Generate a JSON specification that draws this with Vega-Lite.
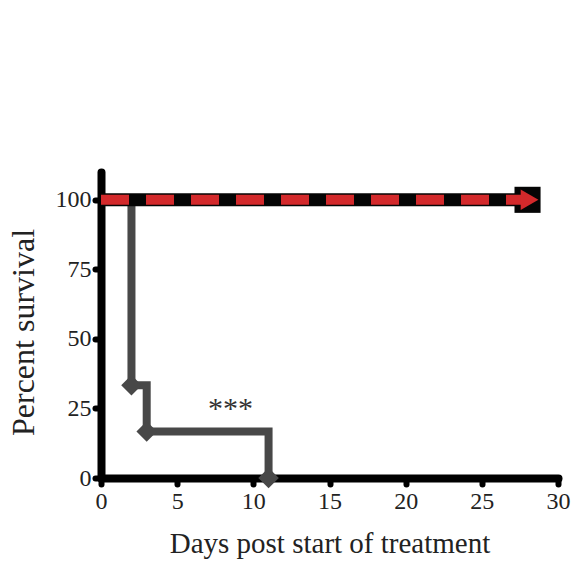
{
  "$schema": "https://vega.github.io/schema/vega-lite/v6.json",
  "autosize": {"type": "none"},
  "padding": {"left": 101, "top": 172, "right": 15, "bottom": 83},
  "width": 457,
  "height": 306,
  "background": "white",
  "config": {
    "view": {"stroke": null},
    "axis": {
      "grid": false,
      "domainColor": "#000000",
      "domainWidth": 8,
      "domainCap": "round",
      "tickColor": "#000000",
      "tickWidth": 6,
      "tickSize": 6,
      "tickCap": "round",
      "labelFont": "Liberation Serif",
      "labelFontSize": 24,
      "labelColor": "#222222",
      "labelFlush": false,
      "labelOverlap": false,
      "titleFont": "Liberation Serif",
      "titleFontWeight": "normal",
      "titleColor": "#222222"
    }
  },
  "datasets": {
    "curves": [
      {"group": "Treated A", "day": 0, "pct": 100},
      {"group": "Treated A", "day": 28, "pct": 100},
      {"group": "Treated B", "day": 0, "pct": 100},
      {"group": "Treated B", "day": 28, "pct": 100},
      {"group": "Control", "day": 0, "pct": 100},
      {"group": "Control", "day": 2, "pct": 33.3},
      {"group": "Control", "day": 3, "pct": 16.7},
      {"group": "Control", "day": 11, "pct": 0}
    ],
    "markers": [
      {"group": "Control", "day": 2, "pct": 33.3},
      {"group": "Control", "day": 3, "pct": 16.7},
      {"group": "Control", "day": 11, "pct": 0},
      {"group": "Treated A", "day": 28, "pct": 100},
      {"group": "Treated B", "day": 28, "pct": 100}
    ],
    "notes": [
      {"label": "***", "day": 8.5, "pct": 21.6}
    ]
  },
  "layer": [
    {
      "data": {"name": "curves"},
      "transform": [{"filter": "datum.group === 'Control'"}],
      "mark": {"type": "line", "interpolate": "step-after", "color": "#484848", "strokeWidth": 8, "strokeCap": "butt", "strokeJoin": "miter"},
      "encoding": {
        "x": {"field": "day", "type": "quantitative", "scale": {"domain": [0, 30]},
          "axis": {"values": [0, 5, 10, 15, 20, 25, 30], "title": "Days post start of treatment", "titleFontSize": 29, "titleBaseline": "alphabetic", "titleY": 74, "labelPadding": 5}},
        "y": {"field": "pct", "type": "quantitative", "scale": {"domain": [0, 110]},
          "axis": {"values": [0, 25, 50, 75, 100], "title": "Percent survival", "titleFontSize": 32, "titleBaseline": "alphabetic", "titleX": -68, "titleY": 160, "labelPadding": 4}}
      }
    },
    {
      "data": {"name": "markers"},
      "transform": [{"filter": "datum.group === 'Control'"}],
      "mark": {"type": "point", "shape": "diamond", "filled": true, "color": "#484848", "size": 420, "opacity": 1},
      "encoding": {
        "x": {"field": "day", "type": "quantitative"},
        "y": {"field": "pct", "type": "quantitative"}
      }
    },
    {
      "data": {"name": "curves"},
      "transform": [{"filter": "datum.group === 'Treated A'"}],
      "mark": {"type": "line", "color": "#050505", "strokeWidth": 13, "strokeCap": "butt"},
      "encoding": {
        "x": {"field": "day", "type": "quantitative"},
        "y": {"field": "pct", "type": "quantitative"}
      }
    },
    {
      "data": {"name": "markers"},
      "transform": [{"filter": "datum.group === 'Treated A'"}],
      "mark": {"type": "point", "shape": "square", "filled": true, "color": "#050505", "size": 680, "opacity": 1},
      "encoding": {
        "x": {"field": "day", "type": "quantitative"},
        "y": {"field": "pct", "type": "quantitative"}
      }
    },
    {
      "data": {"name": "curves"},
      "transform": [{"filter": "datum.group === 'Treated B'"}],
      "mark": {"type": "line", "color": "#d3292b", "strokeWidth": 10, "strokeCap": "butt", "strokeDash": [28, 17]},
      "encoding": {
        "x": {"field": "day", "type": "quantitative"},
        "y": {"field": "pct", "type": "quantitative"}
      }
    },
    {
      "data": {"name": "markers"},
      "transform": [{"filter": "datum.group === 'Treated B'"}],
      "mark": {"type": "point", "shape": "triangle-right", "filled": true, "color": "#d3292b", "size": 420, "opacity": 1, "xOffset": 2},
      "encoding": {
        "x": {"field": "day", "type": "quantitative"},
        "y": {"field": "pct", "type": "quantitative"}
      }
    },
    {
      "data": {"name": "notes"},
      "mark": {"type": "text", "font": "Liberation Serif", "fontSize": 30, "color": "#333333", "baseline": "alphabetic", "align": "center"},
      "encoding": {
        "x": {"field": "day", "type": "quantitative"},
        "y": {"field": "pct", "type": "quantitative"},
        "text": {"field": "label"}
      }
    }
  ]
}
